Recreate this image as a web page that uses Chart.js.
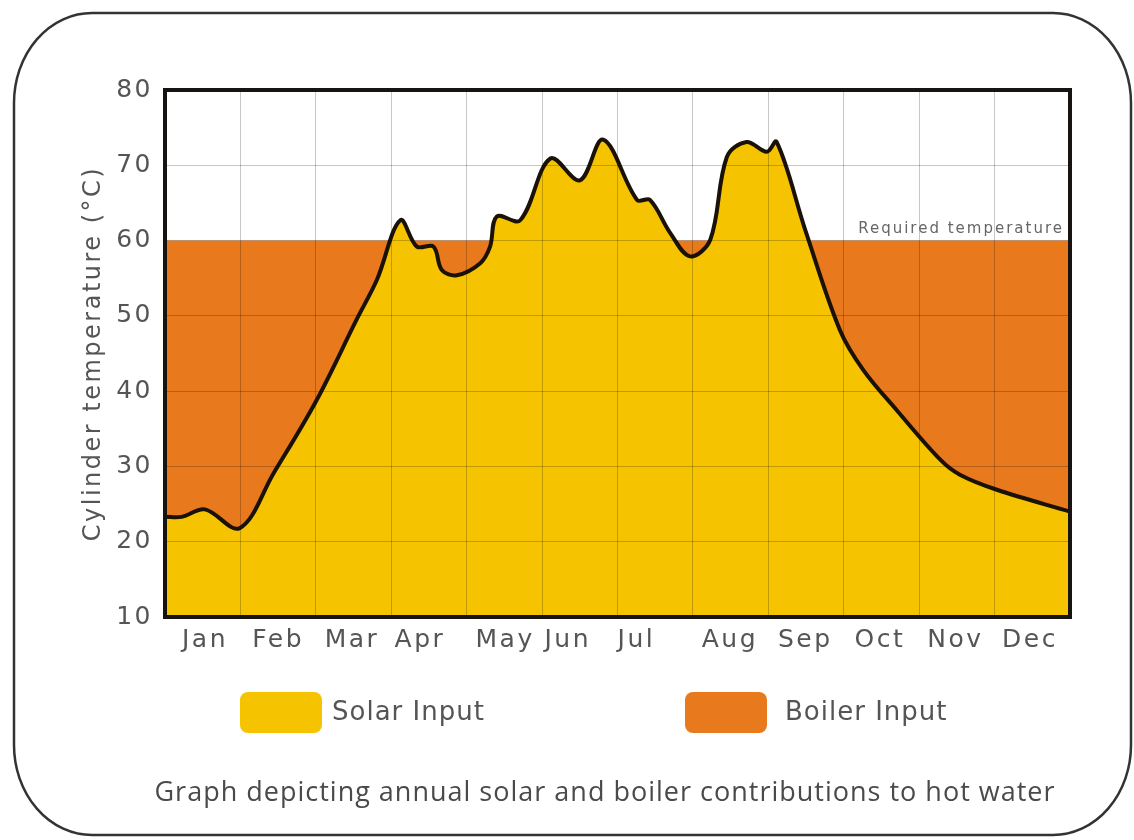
<!DOCTYPE html>
<html>
<head>
<meta charset="utf-8">
<script src="https://cdn.jsdelivr.net/npm/chart.js@4"></script>
<style>
  body { margin: 0; background: #fff; }
  canvas { display: block; }
</style>
</head>
<body>
<canvas id="hotWaterChart" width="1134" height="840"></canvas>
<script>
// month labels and where they sit along the axis (in months from 1 Jan)
const monthLabels = ["Jan", "Feb", "Mar", "Apr", "May", "Jun", "Jul", "Aug", "Sep", "Oct", "Nov", "Dec"];
const monthTickAt = [0.53, 1.5, 2.48, 3.38, 4.51, 5.34, 6.25, 7.49, 8.49, 9.48, 10.48, 11.47];

// cylinder temperature curve
const monthPos = [0, 0.22, 0.53, 0.99, 1.44, 2.01, 2.54, 2.81, 3.12, 3.34, 3.56, 3.67, 3.87, 4.18, 4.31, 4.4,
  4.71, 5.11, 5.5, 5.81, 6.26, 6.43, 6.7, 6.96, 7.23, 7.45, 7.71, 7.98, 8.11, 8.49, 8.95, 9.26, 9.7,
  10.28, 10.54, 11.03, 12];
const solarTemp = [23.3, 23.3, 24.3, 21.8, 29.1, 38.8, 49.5, 54.8, 62.7, 59.2, 59.2, 56.1, 55.4, 57.0, 59.2, 63.2,
  62.7, 70.9, 68.0, 73.4, 65.4, 65.4, 61.0, 57.9, 60.1, 71.1, 73.1, 71.8, 73.1, 61.4, 48.1, 42.8, 37.5,
  30.9, 28.9, 26.9, 24.0];

const requiredTemp = 60;
const yTickValues = [10, 20, 30, 40, 50, 60, 70, 80];

const captionText = "Graph depicting annual solar and boiler contributions to hot water";

const SOLAR = "#F6C300";
const BOILER = "#E8791C";
const TEXT = "#555555";
const GRID = "rgba(0,0,0,0.22)";

// frame, legend, caption and the "Required temperature" note
const decorPlugin = {
  id: "decor",
  beforeDraw(chart) {
    chart.ctx.letterSpacing = "2.5px";
  },
  afterDraw(chart) {
    const ctx = chart.ctx;
    const area = chart.chartArea;
    ctx.save();
    ctx.letterSpacing = "0px";

    // plot border
    ctx.strokeStyle = "#161310";
    ctx.lineWidth = 4;
    ctx.strokeRect(area.left, area.top, area.right - area.left, area.bottom - area.top);

    // rounded outer frame
    const x = 14, y = 13, w = 1117, h = 822, rx = 78, ry = 90;
    ctx.beginPath();
    ctx.moveTo(x + rx, y);
    ctx.lineTo(x + w - rx, y);
    ctx.ellipse(x + w - rx, y + ry, rx, ry, 0, -Math.PI / 2, 0);
    ctx.lineTo(x + w, y + h - ry);
    ctx.ellipse(x + w - rx, y + h - ry, rx, ry, 0, 0, Math.PI / 2);
    ctx.lineTo(x + rx, y + h);
    ctx.ellipse(x + rx, y + h - ry, rx, ry, 0, Math.PI / 2, Math.PI);
    ctx.lineTo(x, y + ry);
    ctx.ellipse(x + rx, y + ry, rx, ry, 0, Math.PI, Math.PI * 1.5);
    ctx.strokeStyle = "#333";
    ctx.lineWidth = 2.5;
    ctx.stroke();

    // required temperature note
    const yReq = chart.scales.y.getPixelForValue(requiredTemp);
    ctx.font = "15px 'DejaVu Sans'";
    ctx.letterSpacing = "2px";
    ctx.fillStyle = "#666";
    ctx.textAlign = "right";
    ctx.textBaseline = "middle";
    ctx.fillText("Required temperature", area.right - 6, yReq - 11);

    // legend
    const items = [
      { ds: chart.data.datasets[0], bx: 240, tx: 332 },
      { ds: chart.data.datasets[1], bx: 685, tx: 785 }
    ];
    ctx.font = "26px 'DejaVu Sans'";
    ctx.letterSpacing = "1px";
    ctx.textAlign = "left";
    items.forEach(it => {
      ctx.beginPath();
      ctx.roundRect(it.bx, 692, 82, 41, 8);
      ctx.fillStyle = it.ds.backgroundColor;
      ctx.fill();
      ctx.fillStyle = TEXT;
      ctx.fillText(it.ds.label, it.tx, 713);
    });

    // caption
    ctx.font = "27px 'Open Sans'";
    ctx.letterSpacing = "1px";
    ctx.textAlign = "center";
    ctx.fillStyle = "#4a4a4a";
    ctx.fillText(captionText, 605, 793);
    ctx.restore();
  }
};

const ctx = document.getElementById("hotWaterChart").getContext("2d");

const hotWaterChart = new Chart(ctx, {
  type: "line",
  data: {
    datasets: [
      {
        label: "Solar Input",
        data: monthPos.map((m, i) => ({ x: m, y: solarTemp[i] })),
        borderColor: "#1a1209",
        borderWidth: 4,
        backgroundColor: SOLAR,
        fill: "start",
        pointRadius: 0,
        tension: 0.35,
        order: 0
      },
      {
        label: "Boiler Input",
        data: [{ x: 0, y: requiredTemp }, { x: 12, y: requiredTemp }],
        borderWidth: 0,
        backgroundColor: BOILER,
        fill: "start",
        pointRadius: 0,
        order: 1
      }
    ]
  },
  options: {
    responsive: false,
    animation: false,
    layout: { padding: { top: 90, right: 64, left: 0, bottom: 0 } },
    plugins: {
      legend: { display: false },
      tooltip: { enabled: false }
    },
    scales: {
      x: {
        type: "linear",
        min: 0,
        max: 12,
        ticks: { stepSize: 1, display: false },
        grid: { color: GRID, lineWidth: 1, drawTicks: false, z: 1 },
        border: { display: false },
        afterFit: (axis) => { axis.height = 0; }
      },
      months: {
        type: "linear",
        position: "bottom",
        min: 0,
        max: 12,
        grid: { display: false, drawTicks: false },
        border: { display: false },
        afterBuildTicks: (axis) => { axis.ticks = monthTickAt.map(v => ({ value: v })); },
        ticks: {
          autoSkip: false,
          maxRotation: 0,
          padding: 8,
          color: TEXT,
          font: { family: "'DejaVu Sans'", size: 25 },
          callback: (value, index) => monthLabels[index]
        },
        afterFit: (axis) => { axis.height = 223; }
      },
      y: {
        min: 10,
        max: 80,
        afterBuildTicks: (axis) => { axis.ticks = yTickValues.map(v => ({ value: v })); },
        ticks: {
          padding: 12,
          color: TEXT,
          font: { family: "'DejaVu Sans'", size: 25 }
        },
        grid: { color: GRID, lineWidth: 1, drawTicks: false, z: 1 },
        border: { display: false },
        title: {
          display: true,
          text: "Cylinder temperature (°C)",
          color: TEXT,
          font: { family: "'DejaVu Sans'", size: 24 },
          padding: { top: 79, bottom: 0 }
        },
        afterFit: (axis) => { axis.width = 165; }
      }
    }
  },
  plugins: [decorPlugin]
});
</script>
</body>
</html>
